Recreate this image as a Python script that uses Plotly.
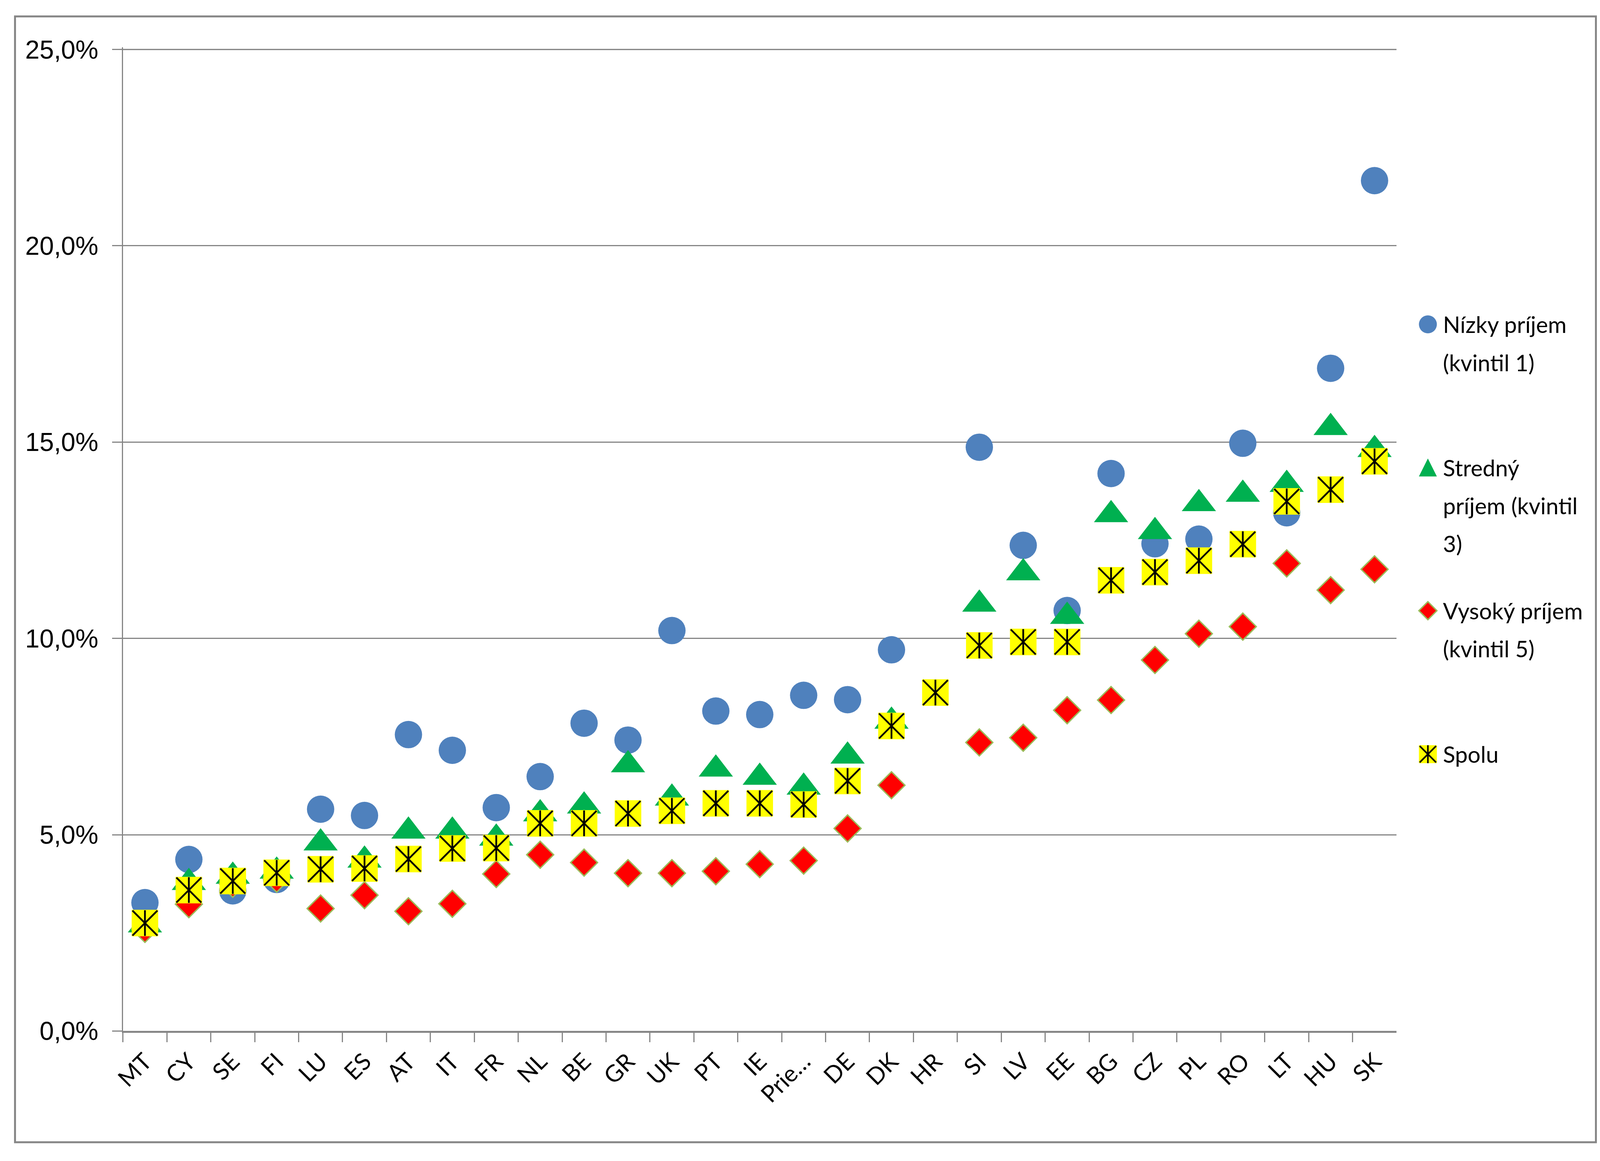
import plotly.graph_objects as go

# chart values (percent)
countries = ["MT", "CY", "SE", "FI", "LU", "ES", "AT", "IT", "FR", "NL", "BE", "GR", "UK", "PT", "IE",
             "Prie…", "DE", "DK", "HR", "SI", "LV", "EE", "BG", "CZ", "PL", "RO", "LT", "HU", "SK"]
nizky = [3.27, 4.37, 3.57, 3.86, 5.65, 5.49, 7.55, 7.15, 5.69, 6.48, 7.84, 7.41, 10.2, 8.15, 8.06,
         8.55, 8.44, 9.71, None, 14.87, 12.37, 10.71, 14.2, 12.41, 12.53, 14.97, 13.2, 16.88, 21.66]
stredny = [2.7, 3.78, 3.94, 4.07, 4.79, 4.35, 5.09, 5.09, 4.91, 5.53, 5.73, 6.78, 5.93, 6.67, 6.46,
           6.21, 7.0, 7.89, None, 10.87, 11.67, 10.56, 13.15, 12.72, 13.43, 13.67, 13.92, 15.37, 14.81]
vysoky = [2.6, 3.23, 3.75, 3.88, 3.12, 3.46, 3.05, 3.24, 4.0, 4.49, 4.29, 4.02, 4.02, 4.07, 4.25,
          4.34, 5.16, 6.26, None, 7.35, 7.47, 8.17, 8.43, 9.45, 10.12, 10.3, 11.91, 11.23, 11.76]
spolu = [2.75, 3.59, 3.82, 4.03, 4.12, 4.14, 4.38, 4.65, 4.66, 5.29, 5.29, 5.54, 5.61, 5.80, 5.80,
         5.77, 6.37, 7.77, 8.62, 9.82, 9.91, 9.91, 11.48, 11.69, 11.98, 12.4, 13.49, 13.79, 14.51]
y_ticks = [0, 5, 10, 15, 20, 25]
legend_labels = ["Nízky príjem<br>(kvintil 1)", "Stredný<br>príjem (kvintil<br>3)",
                 "Vysoký príjem<br>(kvintil 5)", "Spolu"]


def frac(vals):
    return [None if v is None else v / 100 for v in vals]


# layout measured on the 5798x2971 reference, used as fractions so it fills any window
RW, RH = 5798, 2971
GRAY = "#868686"


def fx(px):
    return px / RW


def fy(px):
    return 1 - px / RH


fig = go.Figure()

fig.add_trace(go.Scatter(x=countries, y=frac(nizky), mode="markers", name="n",
                         marker=dict(symbol="circle", size=70, color="#4F81BD", line=dict(width=0))))
fig.add_trace(go.Scatter(x=countries, y=frac(stredny), mode="markers", name="s",
                         marker=dict(symbol="triangle-up", size=76, color="#00B050", line=dict(width=0))))
fig.add_trace(go.Scatter(x=countries, y=frac(vysoky), mode="markers", name="v",
                         marker=dict(symbol="diamond", size=53, color="#FF0000",
                                     line=dict(width=3.5, color="#9BBB59"))))
fig.add_trace(go.Scatter(x=countries, y=frac(spolu), mode="markers", name="sp",
                         marker=dict(symbol="square", size=68, color="#FFFF00", line=dict(width=0))))
# asterisk drawn over the yellow squares: an X plus a vertical stroke
fig.add_trace(go.Scatter(x=countries, y=frac(spolu), mode="markers", hoverinfo="skip",
                         marker=dict(symbol="x-thin", size=64, color="black",
                                     line=dict(width=4.5, color="black"))))
fig.add_trace(go.Scatter(x=countries, y=frac(spolu), mode="markers", hoverinfo="skip",
                         marker=dict(symbol="line-ns", size=47, color="black",
                                     line=dict(width=4.5, color="black"))))

shapes = [dict(type="rect", xref="paper", yref="paper", x0=0.0006, x1=0.9994, y0=0.001, y1=0.999,
               line=dict(color=GRAY, width=5), fillcolor="rgba(0,0,0,0)", layer="below"),
          # top gridline, kept clear of the clipped plot edge
          dict(type="line", xref="x domain", yref="y", x0=0, x1=1, y0=y_ticks[-1] / 100,
               y1=y_ticks[-1] / 100, line=dict(color=GRAY, width=3), layer="above")]

# hand-made legend (plotly caps legend symbols at 16px)
leg_x = fx(5179)
text_x = fx(5232)
item_y = [fy(814), fy(1191), fy(1568), fy(1946)]
line_pitch = 100 / RH
r = 23
symbol_shapes = [
    [dict(type="circle", x0=-r, x1=r, y0=-r, y1=r, fillcolor="#4F81BD", line=dict(width=0))],
    [dict(type="path", path=f"M-{r},-{r} L{r},-{r} L0,{r} Z", fillcolor="#00B050", line=dict(width=0))],
    [dict(type="path", path=f"M-{r},0 L0,{r} L{r},0 L0,-{r} Z", fillcolor="#FF0000",
          line=dict(width=3.5, color="#9BBB59"))],
    [dict(type="rect", x0=-r, x1=r, y0=-r, y1=r, fillcolor="#FFFF00", line=dict(width=0)),
     dict(type="path", path=f"M-{r - 2},-{r - 2} L{r - 2},{r - 2} M-{r - 2},{r - 2} L{r - 2},-{r - 2} M0,-{r} L0,{r}",
          line=dict(width=4, color="black"))],
]
annotations = []
for i, label in enumerate(legend_labels):
    for s in symbol_shapes[i]:
        s.update(xref="paper", yref="paper", xsizemode="pixel", ysizemode="pixel",
                 xanchor=leg_x, yanchor=item_y[i])
        shapes.append(s)
    for k, line in enumerate(label.split("<br>")):
        annotations.append(dict(xref="paper", yref="paper", x=text_x, y=item_y[i] - k * line_pitch,
                                xanchor="left", yanchor="middle", align="left", showarrow=False,
                                text=line, font=dict(family="Lato, Noto Sans", size=58, color="black")))

fig.update_layout(
    autosize=True,
    margin=dict(l=0, r=0, t=0, b=0, pad=0),
    paper_bgcolor="white", plot_bgcolor="white",
    showlegend=False,
    separators=", ",
    shapes=shapes,
    annotations=annotations,
    xaxis=dict(type="category", domain=[fx(399), fx(5064)], range=[-0.5, len(countries) - 0.5],
               tickangle=-45, tickson="boundaries",
               ticks="outside", ticklen=24, tickwidth=3, tickcolor=GRAY, showline=True,
               linecolor=GRAY, linewidth=5, showgrid=False, ticklabelstandoff=14,
               tickfont=dict(family="Lato, Noto Sans", size=60, color="black")),
    yaxis=dict(domain=[fy(2675), fy(84)], range=[0, 0.2506], tickvals=[t / 100 for t in y_ticks],
               tickformat=".1%", ticks="outside", ticklen=25, tickwidth=3, tickcolor=GRAY,
               showline=True, linecolor=GRAY, linewidth=3,
               showgrid=True, gridcolor=GRAY, gridwidth=3, zeroline=False,
               ticklabelstandoff=22,
               tickfont=dict(family="Liberation Sans, Arial", size=66, color="black")),
)

fig.write_html("out.html")
